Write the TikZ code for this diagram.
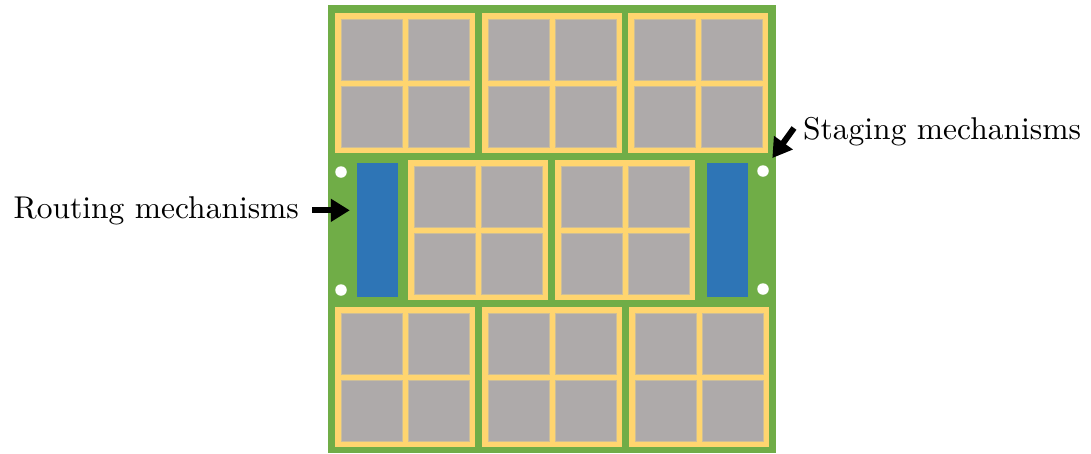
\documentclass[tikz,border=0pt]{standalone}
\usetikzlibrary{arrows.meta}
\definecolor{board}{HTML}{70AD47}
\definecolor{modyel}{HTML}{FFD56F}
\definecolor{cellgrey}{HTML}{AEAAAA}
\definecolor{celledge}{HTML}{CDBE98}
\definecolor{barblue}{HTML}{2E75B6}
\tikzset{
  boardbox/.style={fill=board, draw=none},
  modbox/.style={fill=modyel, draw=none},
  cellbox/.style={fill=cellgrey, draw=celledge, line width=0.8pt},
  barbox/.style={fill=barblue, draw=none},
  holedot/.style={circle, fill=white, draw=none, inner sep=0pt, minimum size=11.5pt},
  lbl/.style={inner sep=0pt},
  bigarrow/.style={line width=6pt, -{Triangle[length=19pt,width=22pt]}}
}
\newcommand{\chipmodule}[2]{%
  \fill[modbox] (#1,#2) rectangle ++(140,140);
  \draw[cellbox] (#1+6,#2+6) rectangle ++(61,61);
  \draw[cellbox] (#1+73,#2+6) rectangle ++(61,61);
  \draw[cellbox] (#1+6,#2+73) rectangle ++(61,61);
  \draw[cellbox] (#1+73,#2+73) rectangle ++(61,61);
}
\newcommand{\biglabel}[1]{\scalebox{3.15}{\fontsize{10}{12}\selectfont #1}}
\begin{document}
\begin{tikzpicture}[x=1pt,y=-1pt]
\useasboundingbox (0,0) rectangle (1091,453);
% board
\fill[boardbox] (328,5) rectangle (776,453);
% top row
\chipmodule{335}{13}
\chipmodule{482}{13}
\chipmodule{628}{13}
% middle row
\chipmodule{408}{160}
\chipmodule{555}{160}
% bottom row
\chipmodule{335}{307}
\chipmodule{482}{307}
\chipmodule{629}{307}
% routing bars
\node[barbox, minimum width=41pt, minimum height=134pt, inner sep=0pt] (leftbar) at (377.5,230) {};
\node[barbox, minimum width=41pt, minimum height=134pt, inner sep=0pt] (rightbar) at (727.5,230) {};
% holes
\node[holedot] (dotTL) at (341,172) {};
\node[holedot] (dotBL) at (341,290) {};
\node[holedot] (dotTR) at (763,171) {};
\node[holedot] (dotBR) at (763,289) {};
% labels
\node[lbl, anchor=base east] (routing) at (299,218) {\biglabel{Routing mechanisms}};
\node[lbl, anchor=base west] (staging) at (803,139) {\biglabel{Staging mechanisms}};
\coordinate (stagtail) at (794,128);
% arrows
\draw[bigarrow, shorten <=13pt, shorten >=7pt] (routing.east) -- (routing.east -| leftbar.west);
\draw[bigarrow, shorten >=10pt] (stagtail) -- (dotTR);
\end{tikzpicture}
\end{document}
